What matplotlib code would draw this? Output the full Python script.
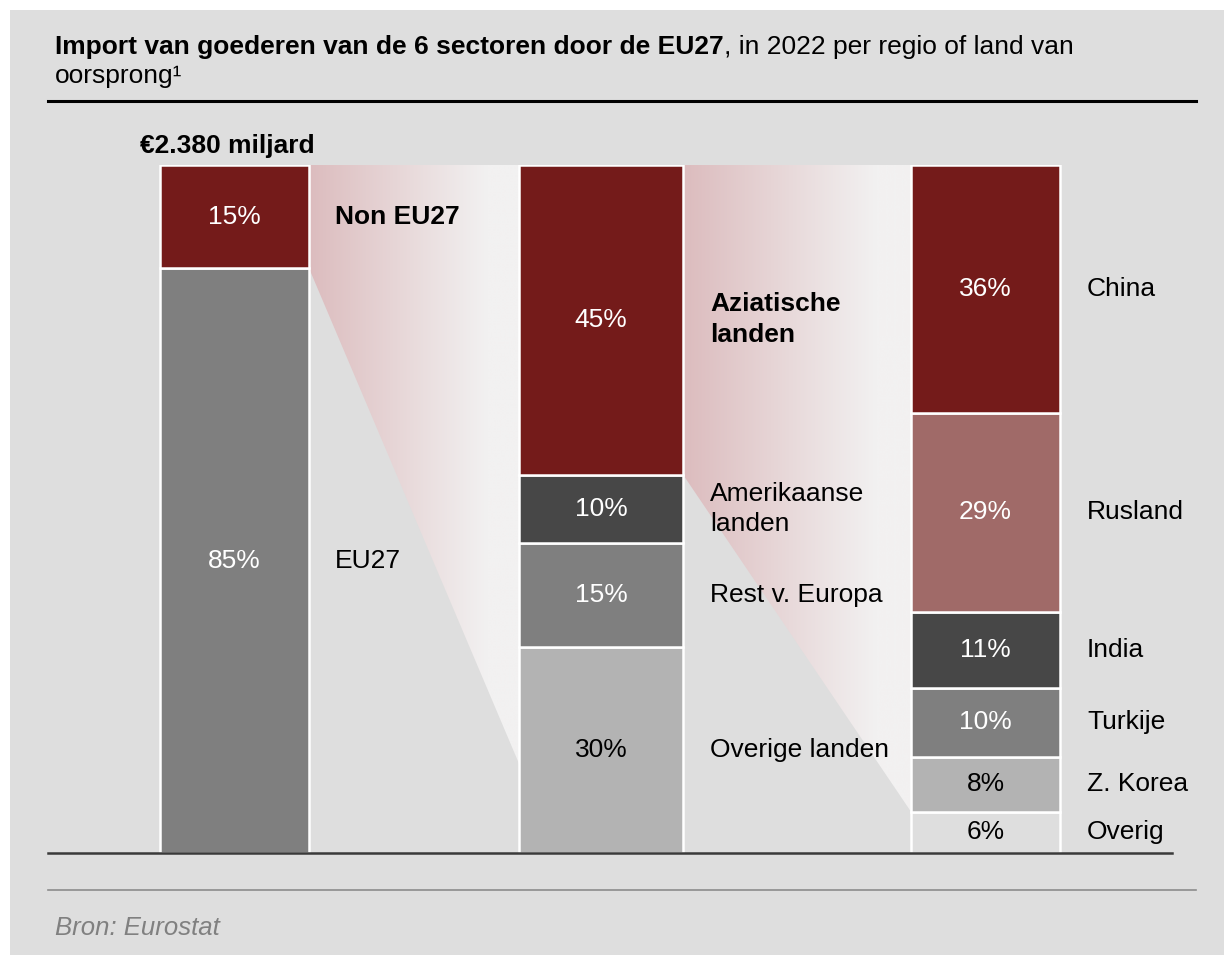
import matplotlib.pyplot as plt
import numpy as np
from matplotlib.patches import Polygon, Rectangle
from matplotlib.lines import Line2D

plt.rcParams['font.family'] = ['Liberation Sans', 'DejaVu Sans']

# data
bar1_labels = ['EU27', 'Non EU27']
bar1_values = [85, 15]
bar2_labels = ['Overige landen', 'Rest v. Europa', 'Amerikaanse\nlanden', 'Aziatische\nlanden']
bar2_values = [30, 15, 10, 45]
bar3_labels = ['Overig', 'Z. Korea', 'Turkije', 'India', 'Rusland', 'China']
bar3_values = [6, 8, 10, 11, 29, 36]
total_label = '€2.380 miljard'

c_red = '#741b1a'
c_rose = '#a06a68'
c_dark = '#474747'
c_mid = '#7f7f7f'
c_light = '#b3b3b3'
c_bg = '#dedede'

bar1_colors = [c_mid, c_red]
bar2_colors = [c_light, c_mid, c_dark, c_red]
bar3_colors = [c_bg, c_light, c_mid, c_dark, c_rose, c_red]
bar1_text = ['white', 'white']
bar2_text = ['black', 'white', 'white', 'white']
bar3_text = ['black', 'black', 'white', 'white', 'white', 'white']
bar2_bold = [False, False, False, True]
bar1_bold = [False, True]

W, H = 1224, 955
fig = plt.figure(figsize=(W / 100, H / 100), dpi=100)
fig.patch.set_facecolor('white')


def fx(x):
    return x / W


def fy(y):
    return 1 - y / H


# grey panel, white strip top and left
fig.patches.append(Rectangle((fx(10), 0), 1 - fx(10), fy(10), transform=fig.transFigure,
                             facecolor=c_bg, edgecolor='none', zorder=-5))

top_px, base_px = 165, 853
ax = fig.add_axes([0, fy(base_px), 1, (base_px - top_px) / H])
ax.patch.set_alpha(0)
ax.axis('off')
ax.set_zorder(2)

fs = 19


def gradient_wedge(x0, x1, top_left, bot_left, top_right, bot_right):
    t = np.linspace(0, 1, 256)
    c0 = np.array([220, 188, 190]) / 255
    c1 = np.array([242, 241, 241]) / 255
    tt = np.clip(t / 0.85, 0, 1)
    row = c0[None, :] * (1 - tt[:, None]) + c1[None, :] * tt[:, None]
    img = np.tile(row[None, :, :], (2, 1, 1))
    im = ax.imshow(img, extent=[x0, x1, 0, 100], aspect='auto', zorder=1, interpolation='bilinear')
    poly = Polygon([(x0, top_left), (x1, top_right), (x1, bot_right), (x0, bot_left)],
                   closed=True, transform=ax.transData)
    im.set_clip_path(poly)


def stacked(xc, width, values, colors, tcolors):
    bottoms = np.concatenate([[0], np.cumsum(values)[:-1]])
    ax.bar([xc] * len(values), values, bottom=bottoms, width=width, color=colors,
           edgecolor='white', linewidth=1.8, zorder=2)
    for v, b, tc in zip(values, bottoms, tcolors):
        ax.text(xc, b + v / 2, f'{v}%', ha='center', va='center', color=tc, fontsize=fs, zorder=3)
    return bottoms


# connecting wedges
gradient_wedge(309, 519, 100, 100 - bar1_values[1], 100, 13)
gradient_wedge(683, 911, 100, 100 - bar2_values[-1], 100, bar3_values[0])

b1 = stacked(234.5, 149, bar1_values, bar1_colors, bar1_text)
b2 = stacked(601, 164, bar2_values, bar2_colors, bar2_text)
b3 = stacked(985.5, 149, bar3_values, bar3_colors, bar3_text)

for lab, v, b, bold in zip(bar1_labels, bar1_values, b1, bar1_bold):
    ax.text(335, b + v / 2, lab, ha='left', va='center', fontsize=fs,
            fontweight='bold' if bold else 'normal', zorder=3)
for lab, v, b, bold in zip(bar2_labels, bar2_values, b2, bar2_bold):
    ax.text(710, b + v / 2, lab, ha='left', va='center', fontsize=fs,
            fontweight='bold' if bold else 'normal', linespacing=1.35, zorder=3)
for lab, v, b in zip(bar3_labels, bar3_values, b3):
    ax.text(1087, b + v / 2, lab, ha='left', va='center', fontsize=fs, zorder=3)

ax.set_xlim(0, W)
ax.set_ylim(0, 100)

# baseline, drawn over the bars
fig.add_artist(Line2D([fx(48), fx(1172)], [fy(853), fy(853)], color='#3a3a3a', lw=1.8, zorder=5))

# total label
fig.text(fx(140), fy(146), total_label, fontsize=fs, fontweight='bold', ha='left', va='center')

# title
tfs = 19
t1 = fig.text(fx(55), fy(47), 'Import van goederen van de 6 sectoren door de EU27', fontsize=tfs,
              fontweight='bold', ha='left', va='center')
fig.canvas.draw()
bb = t1.get_window_extent().transformed(fig.transFigure.inverted())
fig.text(bb.x1, fy(47), ', in 2022 per regio of land van', fontsize=tfs, ha='left', va='center')
fig.text(fx(55), fy(76), 'oorsprong¹', fontsize=tfs, ha='left', va='center')
fig.add_artist(Line2D([fx(48), fx(1196)], [fy(101), fy(101)], color='black', lw=2.2))

# footer
fig.add_artist(Line2D([fx(48), fx(1196)], [fy(890), fy(890)], color='#8c8c8c', lw=1.2))
fig.text(fx(55), fy(928), 'Bron: Eurostat', fontsize=18.5, style='italic', color='#808080',
         ha='left', va='center')

fig.savefig('out.png', dpi=100, facecolor=fig.get_facecolor())
